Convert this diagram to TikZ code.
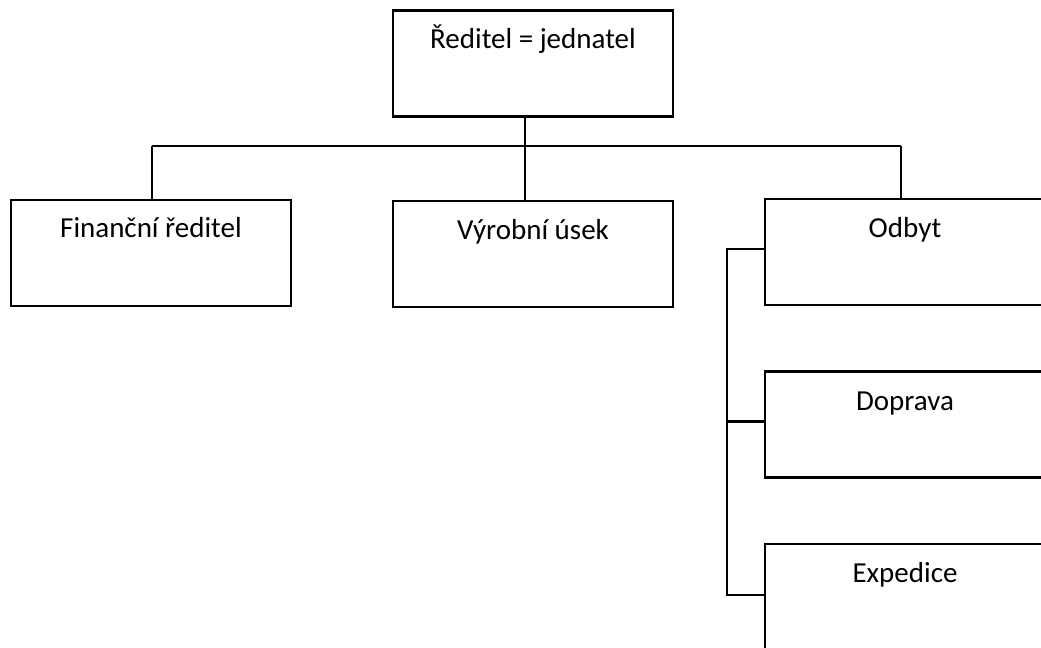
\documentclass[tikz,border=0pt]{standalone}
\usepackage{fontspec}
\setmainfont{Carlito}
\usepackage{tikz}
\usetikzlibrary{positioning}
\tikzstyle{box} = [draw, rectangle, line width=1.1pt, minimum width=140pt, minimum height=53pt, inner sep=0pt]
\tikzstyle{lbl} = [anchor=base, inner sep=0pt, font=\fontsize{14.5pt}{17pt}\selectfont]
\tikzstyle{wire} = [line width=1.1pt]

\begin{document}
\begin{tikzpicture}[x=0.5pt,y=-0.5pt]
\useasboundingbox (0,0) rectangle (1041,648);
\clip (0,0) rectangle (1041,648);
\node[box] (reditel) at (533,63.5) {};
\node[box] (financni) at (151,253) {};
\node[box] (vyroba) at (533,254) {};
\node[box] (odbyt) at (905,252) {};
\node[box] (doprava) at (905,424.5) {};
\node[box] (expedice) at (905,597) {};
\node[lbl] (reditelT) at ([yshift=-19.5pt]reditel.north) {Ředitel = jednatel};
\node[lbl] (financniT) at ([yshift=-19.5pt]financni.north) {Finanční ředitel};
\node[lbl] (vyrobaT) at ([yshift=-20pt]vyroba.north) {Výrobní úsek};
\node[lbl] (odbytT) at ([yshift=-20pt]odbyt.north) {Odbyt};
\node[lbl] (dopravaT) at ([yshift=-20pt]doprava.north) {Doprava};
\node[lbl] (expediceT) at ([yshift=-20pt]expedice.north) {Expedice};
% spojnice
\coordinate (busL) at (152,146);
\coordinate (busM) at (525,146);
\coordinate (busR) at (901,146);
\coordinate (side) at (727,0);
\draw[wire] (reditel.south -| busM) -- (busM);
\draw[wire] (busL) -- (busR);
\draw[wire] (busL) -- (busL |- financni.north);
\draw[wire] (busM) -- (busM |- vyroba.north);
\draw[wire] (busR) -- (busR |- odbyt.north);
\draw[wire] ([yshift=1.5pt]odbyt.west) -- ([yshift=1.5pt]odbyt.west -| side) -- ([yshift=1pt]expedice.west -| side) -- ([yshift=1pt]expedice.west);
\draw[wire] ([yshift=1.5pt]doprava.west -| side) -- ([yshift=1.5pt]doprava.west);
\end{tikzpicture}
\end{document}
